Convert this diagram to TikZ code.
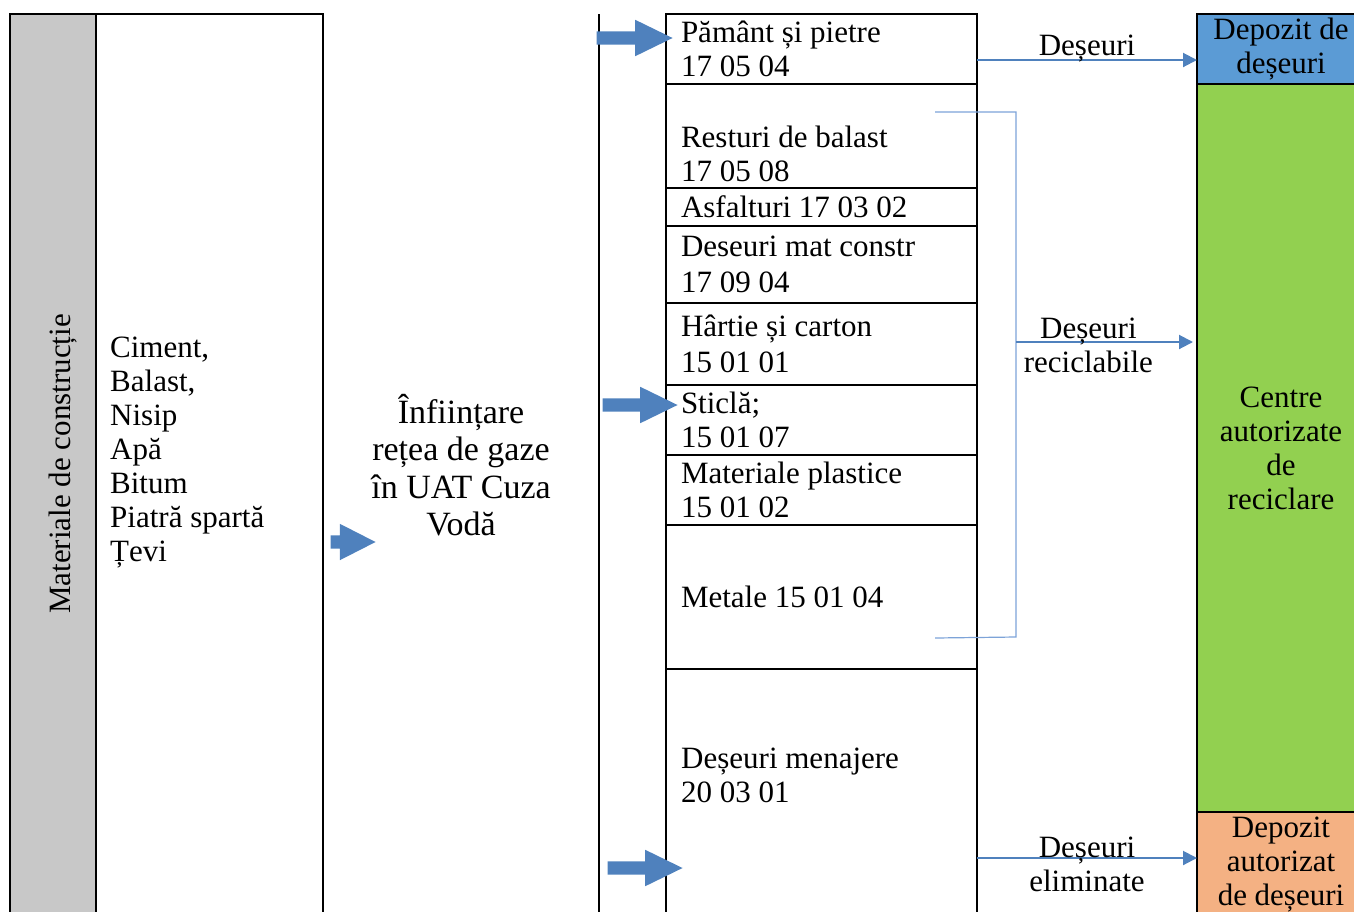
\documentclass[tikz,border=0pt]{standalone}
\usepackage{fontspec}
\setmainfont{Liberation Serif}
\usetikzlibrary{positioning,shapes.arrows,arrows.meta}
\definecolor{matgray}{RGB}{200,200,200}
\definecolor{arrowblue}{RGB}{79,129,189}
\definecolor{linkblue}{RGB}{125,163,216}
\definecolor{depblue}{RGB}{91,155,213}
\definecolor{recgreen}{RGB}{146,208,80}
\definecolor{elimorange}{RGB}{244,177,131}

\begin{document}
\begin{tikzpicture}[x=1pt, y=-1pt, node distance=0pt,
  every node/.style={font=\fontsize{31}{34}\selectfont},
  frame/.style={draw, line width=2pt, outer sep=0pt, inner sep=0pt},
  cell/.style={draw, line width=2pt, outer sep=0pt, text width=281pt, inner xsep=15pt, inner ysep=0pt, align=flush left},
  bin/.style={draw, line width=2pt, outer sep=0pt, minimum width=168pt, text width=160pt, inner sep=0pt, align=flush center},
  bigarrow/.style={single arrow, fill=arrowblue, inner xsep=0pt, inner ysep=6.5pt, minimum width=36pt, single arrow head extend=11.5pt, single arrow tip angle=52, anchor=tip},
  flow/.style={draw=arrowblue, line width=2pt, -{Triangle[length=14pt, width=14pt]}},
  brace/.style={draw=linkblue, line width=1.2pt}]
  \useasboundingbox (0,0) rectangle (1354,911);
  \clip (0,0) rectangle (1354,911);

  \node[frame, fill=matgray, minimum width=86pt, minimum height=920pt, anchor=north west] (matcol) at (10,14) {};
  \node[frame, right=0pt of matcol, minimum width=227pt, minimum height=920pt] (listcol) {};
  \node[rotate=90] (mattitle) at (63,464) {Materiale de construcție};
  \node[anchor=west, align=left, inner xsep=0pt] (inputs) at (110,453) {Ciment,\\Balast,\\Nisip\\Apă\\Bitum\\Piatră spartă\\Țevi};
  \node[bigarrow, minimum height=45pt, single arrow tip angle=54] (inarrow) at (376,542) {};
  \node[align=center, font=\fontsize{34}{37.5}\selectfont] (works) at (461,465) {Înființare\\rețea de gaze\\în UAT Cuza\\Vodă};

  \coordinate (septop) at (599,14);
  \coordinate (sepbot) at (599,930);
  \draw[line width=2pt] (septop) -- (sepbot);

  \node[cell, minimum height=70pt, anchor=north west] (c1) at (666,14) {Pământ și pietre\\17 05 04};
  \node[cell, minimum height=104pt, below=of c1] (c2) {\strut\\Resturi de balast\\17 05 08};
  \node[cell, minimum height=38pt, below=of c2] (c3) {Asfalturi 17 03 02};
  \node[cell, minimum height=77pt, below=of c3, font=\fontsize{31}{36}\selectfont] (c4) {Deseuri mat constr\\17 09 04};
  \node[cell, minimum height=82pt, below=of c4, font=\fontsize{31}{36}\selectfont] (c5) {Hârtie și carton\\15 01 01};
  \node[cell, minimum height=70pt, below=of c5] (c6) {Sticlă;\\15 01 07};
  \node[cell, minimum height=70pt, below=of c6] (c7) {Materiale plastice\\15 01 02};
  \node[cell, minimum height=144pt, below=of c7] (c8) {Metale 15 01 04};
  \node[cell, minimum height=260pt, below=of c8] (c9) {};
  \node[anchor=west, align=left, inner xsep=0pt] (c9text) at (681,775) {Deșeuri menajere\\20 03 01};

  \node[bigarrow, minimum height=76pt] (toparrow) at (673,38) {};
  \node[bigarrow, minimum height=75pt] (midarrow) at (678,405) {};
  \node[bigarrow, minimum height=75pt] (lowarrow) at (683,868) {};

  \node[bin, fill=depblue, minimum height=70pt, anchor=north west] (dep) at (1197,14) {Depozit de\\deșeuri};
  \node[bin, fill=recgreen, minimum height=728pt, below=of dep] (rec) {Centre\\autorizate\\de\\reciclare};
  \node[bin, fill=elimorange, minimum height=106pt, below=of rec] (elim) {Depozit\\autorizat\\de deșeuri};

  \draw[flow] ([yshift=-11pt]c1.east) -- ([yshift=-11pt]c1.east -| dep.west) node[midway, above=-6pt] {Deșeuri};

  \coordinate (bra) at (935,112);
  \coordinate (brb) at (1016,112);
  \coordinate (brc) at (1016,637);
  \coordinate (brd) at (935,638);
  \coordinate (brmid) at (1016,342);
  \draw[brace] (bra) -- (brb) -- (brc) -- (brd);
  \draw[flow, shorten >=4pt] (brmid) -- (brmid -| rec.west) node[pos=0.4, yshift=-3pt, align=center] {Deșeuri\\reciclabile};

  \draw[flow] (c9.east |- 0,858) -- (elim.west |- 0,858) node[midway, yshift=-6pt, align=center] {Deșeuri\\eliminate};
\end{tikzpicture}
\end{document}
